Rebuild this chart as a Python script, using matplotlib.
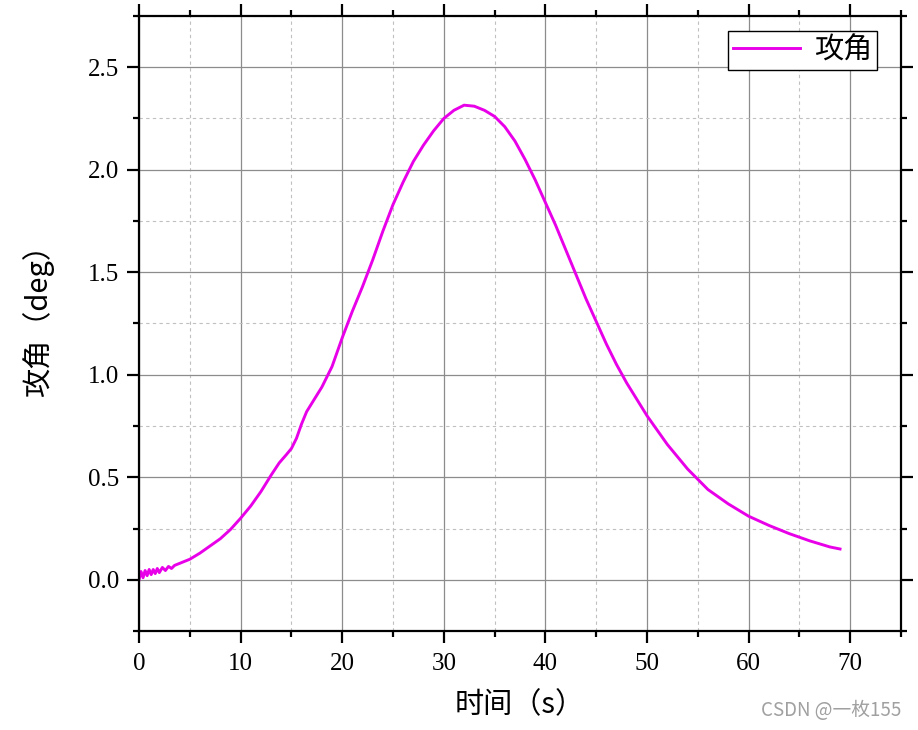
import numpy as np
import matplotlib.pyplot as plt
from matplotlib.ticker import MultipleLocator

# Данные
time_s = [0.0, 0.2, 0.4, 0.6, 0.8, 1.0, 1.2, 1.4, 1.6, 1.8, 2.0, 2.3, 2.6, 2.9, 3.2, 3.5,
          4.0, 5.0, 6.0, 7.0, 8.0, 9.0, 10.0, 11.0, 12.0, 13.0, 13.8, 14.5, 15.0, 15.5,
          16.0, 16.5, 17.0, 17.5, 18.0, 18.5, 19.0, 20.0, 21.0, 22.0, 23.0, 24.0, 25.0,
          26.0, 27.0, 28.0, 29.0, 30.0, 31.0, 32.0, 33.0, 34.0, 35.0, 36.0, 37.0, 38.0,
          39.0, 40.0, 41.0, 42.0, 43.0, 44.0, 45.0, 46.0, 47.0, 48.0, 49.0, 50.0, 52.0,
          54.0, 55.0, 56.0, 58.0, 60.0, 62.0, 64.0, 66.0, 68.0, 69.0]
attack_deg = [0.00, 0.04, 0.01, 0.045, 0.02, 0.05, 0.025, 0.05, 0.03, 0.055, 0.035, 0.06,
              0.045, 0.065, 0.055, 0.07, 0.08, 0.10, 0.13, 0.165, 0.20, 0.245, 0.30,
              0.36, 0.43, 0.51, 0.57, 0.61, 0.64, 0.69, 0.76, 0.82, 0.86, 0.90, 0.94,
              0.99, 1.04, 1.18, 1.31, 1.43, 1.56, 1.70, 1.83, 1.94, 2.04, 2.12, 2.19,
              2.25, 2.29, 2.315, 2.31, 2.29, 2.26, 2.21, 2.14, 2.05, 1.95, 1.84, 1.73,
              1.61, 1.49, 1.37, 1.26, 1.15, 1.05, 0.96, 0.88, 0.80, 0.66, 0.54, 0.49,
              0.44, 0.37, 0.31, 0.265, 0.225, 0.19, 0.16, 0.15]

cjk = ['Noto Sans CJK SC', 'DejaVu Sans']
num_font = 'Liberation Serif'

fig = plt.figure(figsize=(9.18, 7.30), dpi=100)
ax = fig.add_axes([139 / 918, 1 - 631 / 730, (901 - 139) / 918, (631 - 16) / 730])

ax.plot(time_s, attack_deg, color='#E800E8', linewidth=2.1, label='攻角')

ax.set_xlim(0, 75)
ax.set_ylim(-0.25, 2.75)
ax.xaxis.set_major_locator(MultipleLocator(10))
ax.xaxis.set_minor_locator(MultipleLocator(5))
ax.yaxis.set_major_locator(MultipleLocator(0.5))
ax.yaxis.set_minor_locator(MultipleLocator(0.25))
ax.yaxis.set_major_formatter(plt.FuncFormatter(lambda v, p: '%.1f' % v))

# Сетка
ax.grid(which='major', color='#8c8c8c', linewidth=0.9, linestyle='-')
ax.grid(which='minor', color='#c0c0c0', linewidth=0.8, linestyle=(0, (3, 3)))
ax.set_axisbelow(True)

ax.tick_params(which='both', direction='out', top=True, right=True, width=1.6,
               labelsize=18)
ax.tick_params(which='major', length=8.5)
ax.tick_params(which='minor', length=4.5)
ax.tick_params(axis='x', which='major', pad=7)
ax.tick_params(axis='y', which='major', pad=6)
for lbl in ax.get_xticklabels() + ax.get_yticklabels():
    lbl.set_fontfamily(num_font)
for sp in ax.spines.values():
    sp.set_linewidth(1.6)

ax.set_xlabel('时间（s）', family=cjk, fontsize=21)
ax.set_ylabel('攻角（deg）', family=cjk, fontsize=21)
ax.xaxis.set_label_coords(0.5, -0.097)
ax.yaxis.set_label_coords(-0.112, 0.517)

leg = ax.legend(loc='upper right', bbox_to_anchor=(0.9685, 0.9756),
                prop={'family': cjk, 'size': 21}, fancybox=False, framealpha=1,
                edgecolor='black', borderpad=0.15, handlelength=2.3,
                handletextpad=0.5, borderaxespad=0)
leg.get_frame().set_linewidth(1.0)

fig.text(0.982, 0.012, 'CSDN @一枚155', family=cjk, fontsize=13.5, color='#a0a0a0',
         ha='right', va='bottom')

plt.savefig('out.png', dpi=100)
